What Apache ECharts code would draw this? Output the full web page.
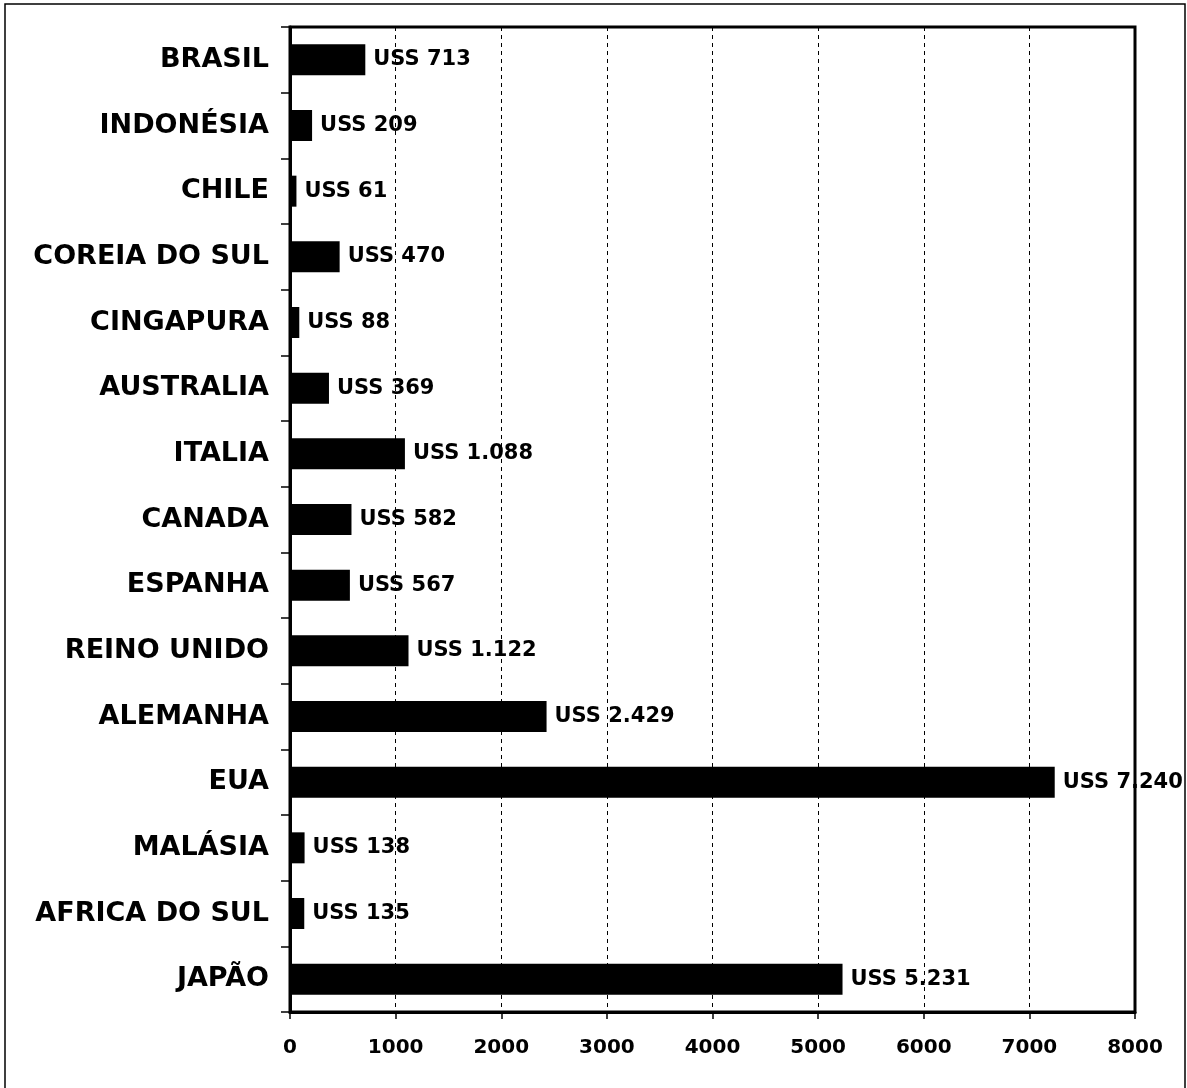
<!DOCTYPE html>
<html>
<head>
<meta charset="utf-8">
<script src="https://cdn.jsdelivr.net/npm/echarts@6/dist/echarts.min.js"></script>
<style>
  html, body { margin: 0; padding: 0; background: #fff; }
  #chart { width: 1187px; height: 1088px; }
</style>
</head>
<body>
<div id="chart"></div>
<script>
// Countries, listed top to bottom
const countries = [
  'BRASIL', 'INDONÉSIA', 'CHILE', 'COREIA DO SUL', 'CINGAPURA',
  'AUSTRALIA', 'ITALIA', 'CANADA', 'ESPANHA', 'REINO UNIDO',
  'ALEMANHA', 'EUA', 'MALÁSIA', 'AFRICA DO SUL', 'JAPÃO'
];
// Values in US$
const values = [713, 209, 61, 470, 88, 369, 1088, 582, 567, 1122, 2429, 7240, 138, 135, 5231];
// Value axis ticks
const xTicks = [0, 1000, 2000, 3000, 4000, 5000, 6000, 7000, 8000];

const FONT = '"DejaVu Sans", "Liberation Sans", Arial, sans-serif';

function fmt(v) {
  return 'USS ' + String(v).replace(/\B(?=(\d{3})+(?!\d))/g, '.');
}

const chart = echarts.init(document.getElementById('chart'), null, { renderer: 'canvas' });

chart.setOption({
  backgroundColor: '#ffffff',
  animation: false,
  grid: {
    left: 290, right: 52, top: 27, bottom: 76,
    show: true, borderColor: '#000', borderWidth: 3,
    backgroundColor: 'transparent'
  },
  xAxis: {
    type: 'value',
    min: xTicks[0],
    max: xTicks[xTicks.length - 1],
    interval: 1000,
    axisLine: { show: true, lineStyle: { color: '#000', width: 3 } },
    axisTick: { show: true, length: 7, lineStyle: { color: '#000', width: 1.5 } },
    axisLabel: {
      margin: 26,
      color: '#000',
      fontFamily: FONT,
      fontWeight: 'bold',
      fontSize: 20,
      formatter: v => String(v)
    },
    splitLine: {
      show: true,
      lineStyle: { color: '#000', width: 1, type: [4, 4] }
    }
  },
  yAxis: {
    type: 'category',
    inverse: true,
    data: countries,
    axisLine: { show: true, lineStyle: { color: '#000', width: 3 } },
    axisTick: { show: true, length: 9, lineStyle: { color: '#000', width: 1.5 } },
    axisLabel: {
      margin: 21,
      color: '#000',
      fontFamily: FONT,
      fontWeight: 'bold',
      fontSize: 27
    },
    splitLine: { show: false }
  },
  series: [{
    type: 'bar',
    data: values,
    barWidth: 31,
    itemStyle: { color: '#000' },
    label: {
      show: true,
      position: 'right',
      distance: 8,
      color: '#000',
      fontFamily: FONT,
      fontWeight: 'bold',
      fontSize: 21,
      formatter: p => fmt(p.value)
    },
    z: 3
  }],
  graphic: [{
    type: 'rect',
    shape: { x: 5, y: 4, width: 1180, height: 1100 },
    style: { fill: 'none', stroke: '#000', lineWidth: 1.5 },
    silent: true
  }]
});
</script>
</body>
</html>
